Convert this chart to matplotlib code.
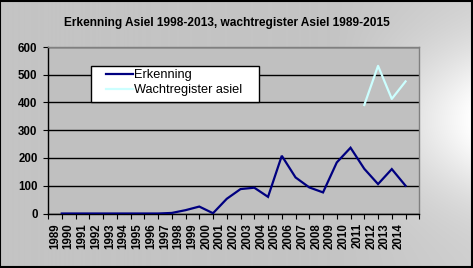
import numpy as np
import matplotlib
matplotlib.use("Agg")
import matplotlib.pyplot as plt
from matplotlib.patches import Rectangle

# ---- data ----
label_years = [str(y) for y in range(1989, 2015)]
erk_years = list(range(1990, 2016))
erk_values = [0, 0, 0, 0, 0, 0, 0, 0, 2, 12, 25, 1, 53, 88, 93, 60,
              208, 130, 94, 76, 184, 237, 161, 106, 160, 100]
wacht_years = [2012, 2013, 2014, 2015]
wacht_values = [391, 532, 413, 476]
y_ticks = [0, 100, 200, 300, 400, 500, 600]
title = "Erkenning Asiel 1998-2013, wachtregister Asiel 1989-2015"
series_names = ["Erkenning", "Wachtregister asiel"]
base_year = 1989

plt.rcParams['font.family'] = ['Liberation Sans', 'DejaVu Sans']

W, H = 473, 268
fig = plt.figure(figsize=(W / 100, H / 100), dpi=100)

# background gradient
bg = fig.add_axes([0, 0, 1, 1], zorder=-10)
xx, yy = np.meshgrid(np.linspace(0, W, W), np.linspace(0, H, H))
tx = np.clip((xx - 330) / (W - 330), 0, 1)
bell = np.exp(-((yy - 120) / 75.0) ** 2)
val = 196 + 10 * tx + 50 * tx ** 1.3 * bell
val = np.clip(val, 0, 255) / 255.0
bg.imshow(np.dstack([val, val, val]), aspect='auto', extent=[0, W, H, 0])
bg.set_axis_off()
fig.patches.append(Rectangle((0.001, 0.002), 0.996, 0.995, transform=fig.transFigure,
                             fill=False, edgecolor='black', lw=1.5, zorder=100))

ax = fig.add_axes([48 / W, 1 - 213.5 / H, (419.3 - 48) / W, (213.5 - 47) / H])
ax.set_facecolor('#c0c0c0')

ex = [y - base_year for y in erk_years]
wx = [y - base_year for y in wacht_years]
l1, = ax.plot(ex, erk_values, color='#000080', lw=1.6, solid_joinstyle='miter', zorder=3)
l2, = ax.plot(wx, wacht_values, color='#ccffff', lw=1.6, zorder=3)

ax.set_xlim(0, 27)
ax.set_ylim(0, 600)
ax.set_yticks(y_ticks)
ax.set_yticklabels([str(v) for v in y_ticks], fontsize=8.3, fontweight='bold')
ax.yaxis.grid(True, color='black', lw=1)
ax.set_axisbelow(True)

ax.set_xticks(np.arange(0, 28))
ax.set_xticklabels([])
ax.tick_params(axis='x', which='major', direction='out', length=3.5, width=0.8, color='black')
ax.set_xticks([i + 0.5 for i in range(len(label_years))], minor=True)
ax.set_xticklabels(label_years, minor=True, rotation=90, fontsize=8.3, fontweight='bold')
ax.tick_params(axis='x', which='minor', length=0, pad=7)
ax.tick_params(axis='y', direction='out', length=3.5, width=0.8, pad=4, color='black')

for s in ['top', 'right']:
    ax.spines[s].set_color('#808080')
    ax.spines[s].set_linewidth(1)
for s in ['left', 'bottom']:
    ax.spines[s].set_color('black')
    ax.spines[s].set_linewidth(1)

fig.text(227 / W, 1 - 23 / H, title, ha='center', va='center', fontsize=8.6, fontweight='bold')

# legend
fig.patches.append(Rectangle((91 / W, 1 - 102 / H), (259 - 91) / W, (102 - 66) / H,
                             transform=fig.transFigure, facecolor='white',
                             edgecolor='black', lw=1, zorder=5))
leg = fig.legend([l1, l2], series_names, loc='upper left',
                 bbox_to_anchor=(106 / W, 1 - 69 / H), bbox_transform=fig.transFigure,
                 frameon=False, fontsize=9.2, borderpad=0, borderaxespad=0,
                 handlelength=2.1, handletextpad=0.1, labelspacing=0.25)
leg.set_zorder(6)

fig.savefig('out.png', dpi=100)
